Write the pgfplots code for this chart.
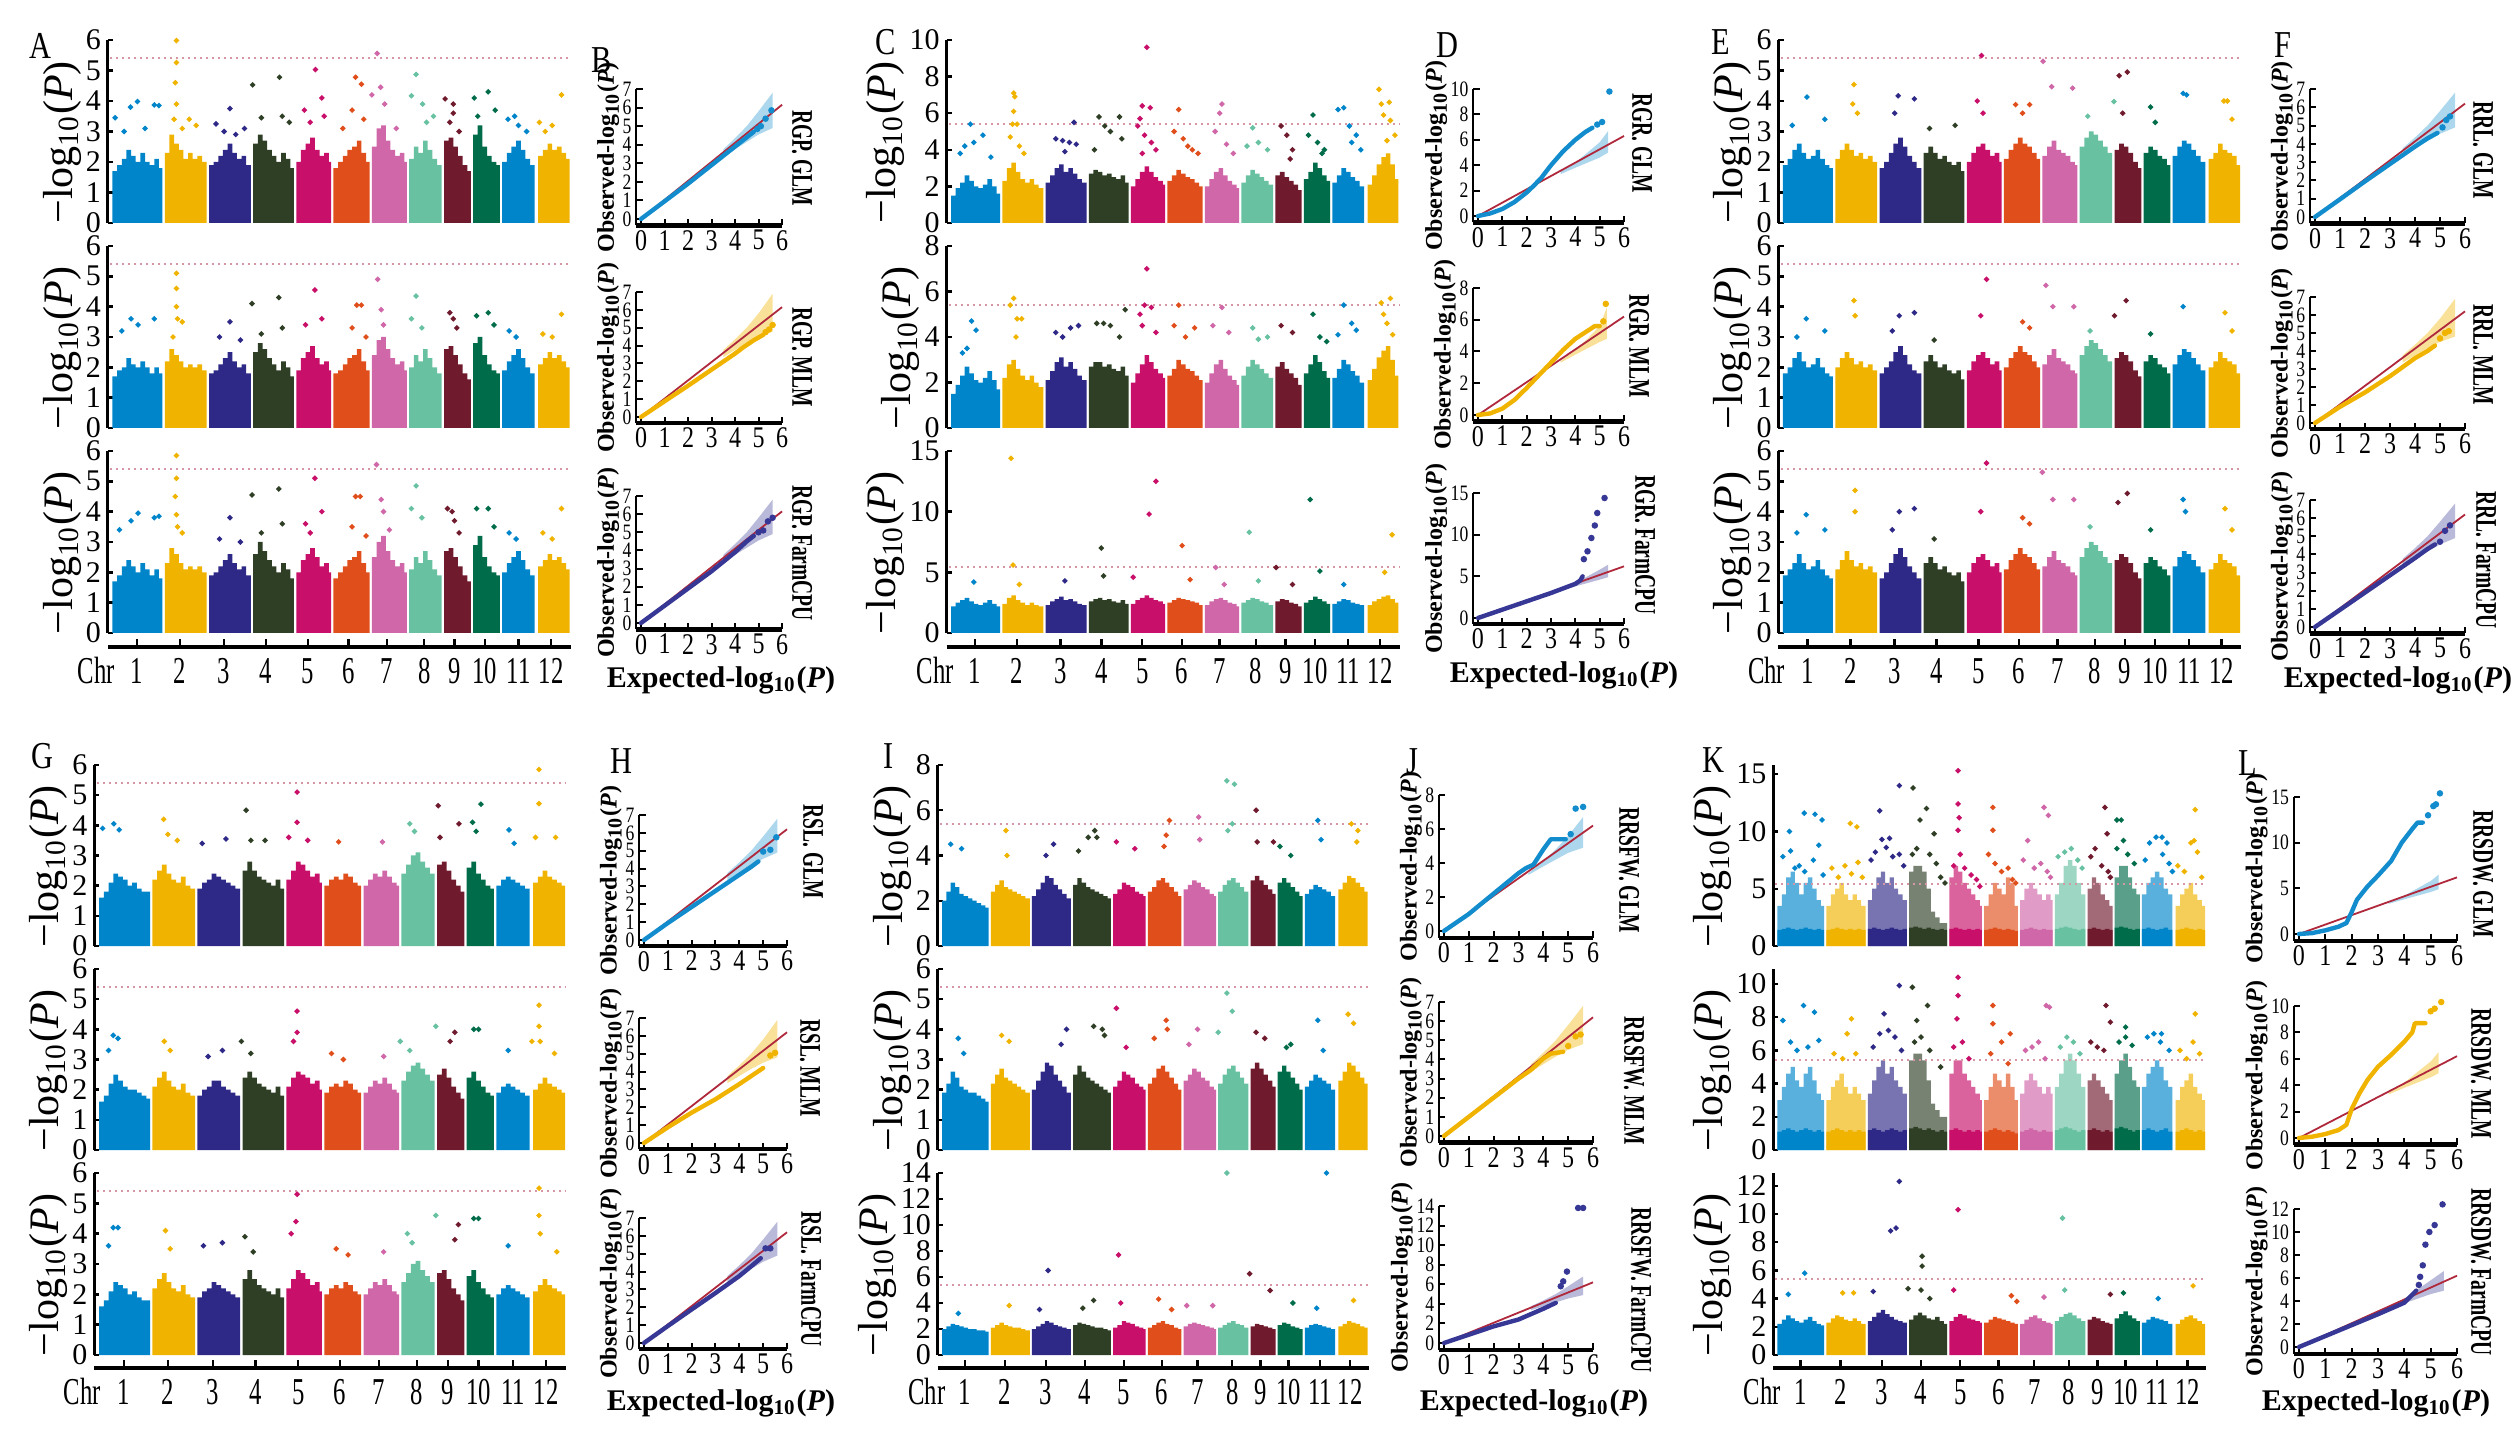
\documentclass[border=0pt]{standalone}
\usepackage{fontspec}
\setmainfont{Liberation Serif}
\newfontfamily\cond{Liberation Serif}[FakeStretch=0.8]
\newfontfamily\xcond{Liberation Serif}[FakeStretch=0.65]
\usepackage{pgfplots}
\usepackage{pgfplotstable}
\pgfplotsset{compat=1.18}
\newcommand\fs[1]{\fontsize{#1}{#1}\selectfont}

\definecolor{c1}{RGB}{0,133,202}
\definecolor{c2}{RGB}{240,180,0}
\definecolor{c3}{RGB}{46,41,135}
\definecolor{c4}{RGB}{47,63,38}
\definecolor{c5}{RGB}{200,15,105}
\definecolor{c6}{RGB}{224,78,28}
\definecolor{c7}{RGB}{208,103,168}
\definecolor{c8}{RGB}{104,194,162}
\definecolor{c9}{RGB}{112,26,46}
\definecolor{c10}{RGB}{0,108,74}
\definecolor{c11}{RGB}{0,133,202}
\definecolor{c12}{RGB}{240,180,0}
\definecolor{glm}{RGB}{18,140,205}
\definecolor{mlm}{RGB}{240,180,0}
\definecolor{fcpu}{RGB}{55,55,150}
\colorlet{glmb}{glm!35!white}
\colorlet{mlmb}{mlm!40!white}
\colorlet{fcpub}{fcpu!35!white}
\definecolor{qqred}{RGB}{175,40,60}
\definecolor{thr}{RGB}{215,150,165}

% rows: one per Manhattan panel, one bar (about 4 Mb) per column
\pgfplotstableread[header=false]{
x 2 6 10 14 18 22 26 30 34 38 41  47 51 55 59 63 67 71 75 79  85 89 93 97 101 105 109 113 117  123 127 131 135 139 143 147 151 154  160 164 168 172 176 180 184 186  192 196 200 204 208 212 216 219  225 229 233 237 241 245 249 251  257 261 265 269 273 277 281  287 291 295 299 303 306  312 316 320 324 328 331  337 341 345 349 353 357 361  368 372 376 380 384 388 391
chr 1 1 1 1 1 1 1 1 1 1 1  2 2 2 2 2 2 2 2 2  3 3 3 3 3 3 3 3 3  4 4 4 4 4 4 4 4 4  5 5 5 5 5 5 5 5  6 6 6 6 6 6 6 6  7 7 7 7 7 7 7 7  8 8 8 8 8 8 8  9 9 9 9 9 9  10 10 10 10 10 10  11 11 11 11 11 11 11  12 12 12 12 12 12 12
A1 1.7 1.9 2.1 2.4 2.2 2.0 2.3 2.0 1.9 2.1 1.8  2.3 2.9 2.6 2.4 2.1 2.3 2.1 2.2 2.0  1.9 2.0 2.2 2.4 2.6 2.3 2.1 2.2 1.9  2.6 2.9 2.7 2.4 2.2 2.0 2.3 2.1 1.8  2.0 2.4 2.6 2.8 2.4 2.2 2.3 2.0  1.8 2.0 2.2 2.4 2.5 2.7 2.3 2.0  2.5 3.1 3.2 2.7 2.4 2.2 2.3 2.0  2.1 2.5 2.3 2.7 2.4 2.1 1.9  2.7 2.8 2.5 2.2 1.9 1.7  2.9 3.2 2.5 2.2 2.0 1.9  2.0 2.3 2.5 2.7 2.4 2.1 1.9  2.2 2.4 2.6 2.4 2.5 2.3 2.1
A2 1.7 1.9 2.0 2.3 2.1 2.0 2.2 2.0 1.8 2.0 1.8  2.2 2.6 2.4 2.2 2.0 2.1 2.0 2.1 1.9  1.8 1.9 2.1 2.3 2.5 2.2 2.0 2.1 1.8  2.5 2.8 2.6 2.3 2.1 1.9 2.2 2.0 1.7  1.9 2.3 2.5 2.7 2.3 2.1 2.2 1.9  1.8 1.9 2.1 2.3 2.4 2.6 2.2 1.9  2.4 2.9 3.0 2.6 2.3 2.1 2.2 1.9  2.0 2.4 2.2 2.6 2.3 2.0 1.8  2.6 2.7 2.4 2.1 1.8 1.6  2.8 3.0 2.4 2.1 1.9 1.8  1.9 2.2 2.4 2.6 2.3 2.0 1.8  2.1 2.3 2.5 2.3 2.4 2.2 2.0
A3 1.7 1.9 2.2 2.4 2.2 2.0 2.3 2.1 1.9 2.1 1.8  2.3 2.8 2.6 2.3 2.1 2.2 2.1 2.2 2.0  1.9 2.0 2.2 2.4 2.6 2.3 2.1 2.2 1.9  2.6 3.0 2.7 2.4 2.2 2.0 2.3 2.1 1.8  2.0 2.4 2.6 2.8 2.5 2.2 2.3 2.0  1.8 2.0 2.2 2.4 2.5 2.7 2.3 2.0  2.5 3.0 3.2 2.7 2.4 2.2 2.3 2.0  2.1 2.5 2.3 2.7 2.4 2.1 1.9  2.7 2.8 2.5 2.2 1.9 1.7  2.9 3.2 2.5 2.2 2.0 1.9  2.0 2.3 2.5 2.7 2.4 2.1 1.9  2.2 2.4 2.6 2.4 2.5 2.3 2.1
C1 1.5 1.9 2.2 2.6 2.3 2.0 1.9 2.1 2.4 2.0 1.6  2.3 3.0 3.3 2.8 2.4 2.2 2.4 2.1 1.9  2.2 2.6 3.0 3.2 2.8 3.0 2.7 2.4 2.2  2.7 2.9 2.8 2.6 2.7 2.5 2.4 2.6 2.2  2.0 2.4 2.8 3.1 2.8 2.5 2.3 2.1  2.3 2.6 2.9 2.7 2.5 2.4 2.2 2.0  2.0 2.4 2.8 3.0 2.6 2.3 2.1 1.9  2.2 2.6 2.9 2.7 2.5 2.3 2.1  2.6 2.8 2.5 2.3 2.1 1.8  2.4 2.8 3.3 3.0 2.6 2.3  2.2 2.6 3.0 2.8 2.5 2.3 2.0  2.1 2.6 3.2 3.6 3.8 3.2 2.4
C2 1.5 1.9 2.3 2.7 2.4 2.1 2.0 2.2 2.5 2.1 1.7  2.2 2.8 3.0 2.6 2.3 2.1 2.3 2.0 1.8  2.1 2.5 2.9 3.1 2.7 2.9 2.6 2.3 2.1  2.7 2.9 2.9 2.7 2.8 2.6 2.5 2.7 2.3  2.0 2.4 2.8 3.2 2.9 2.6 2.4 2.2  2.3 2.6 3.0 2.8 2.6 2.5 2.3 2.1  2.0 2.4 2.8 3.0 2.6 2.3 2.1 1.9  2.3 2.7 3.0 2.8 2.6 2.4 2.2  2.7 2.9 2.6 2.4 2.2 1.9  2.4 2.8 3.2 2.9 2.5 2.2  2.2 2.6 3.0 2.8 2.5 2.3 2.0  2.1 2.6 3.1 3.4 3.6 3.0 2.3
C3 2.2 2.5 2.7 2.9 2.6 2.4 2.3 2.5 2.7 2.4 2.2  2.4 2.9 3.1 2.7 2.5 2.3 2.5 2.3 2.2  2.3 2.6 2.8 3.0 2.7 2.8 2.6 2.4 2.3  2.6 2.8 2.9 2.7 2.8 2.6 2.5 2.7 2.4  2.4 2.7 2.9 3.1 2.9 2.7 2.6 2.4  2.5 2.7 2.9 2.8 2.7 2.6 2.5 2.3  2.3 2.6 2.8 2.9 2.7 2.5 2.4 2.2  2.5 2.7 2.9 2.8 2.6 2.5 2.3  2.6 2.8 2.7 2.5 2.4 2.2  2.5 2.7 3.0 2.8 2.6 2.4  2.4 2.6 2.8 2.7 2.5 2.4 2.3  2.3 2.6 2.8 3.0 3.1 2.8 2.5
E1 1.9 2.1 2.4 2.6 2.3 2.1 2.2 2.4 2.1 1.9 1.8  2.1 2.4 2.6 2.4 2.2 2.3 2.1 2.2 2.0  1.8 2.0 2.3 2.6 2.8 2.5 2.2 2.0 1.8  2.3 2.5 2.3 2.1 2.2 2.0 1.9 2.0 1.7  2.0 2.3 2.5 2.6 2.4 2.2 2.3 2.0  2.1 2.4 2.6 2.8 2.6 2.5 2.3 2.1  2.2 2.5 2.7 2.4 2.3 2.2 2.0 1.9  2.5 2.8 3.0 2.9 2.7 2.5 2.3  2.4 2.6 2.5 2.3 2.0 1.8  2.3 2.5 2.4 2.2 2.1 1.9  2.2 2.5 2.7 2.6 2.4 2.2 2.0  2.1 2.3 2.6 2.4 2.3 2.2 1.9
E2 1.8 2.0 2.3 2.5 2.2 2.0 2.1 2.3 2.0 1.8 1.7  2.0 2.3 2.5 2.3 2.1 2.2 2.0 2.1 1.9  1.8 2.0 2.2 2.5 2.7 2.4 2.1 1.9 1.8  2.2 2.4 2.2 2.0 2.1 1.9 1.8 1.9 1.6  1.9 2.2 2.4 2.5 2.3 2.1 2.2 1.9  2.0 2.3 2.5 2.7 2.5 2.4 2.2 2.0  2.1 2.4 2.6 2.3 2.2 2.1 1.9 1.8  2.4 2.7 2.9 2.8 2.6 2.4 2.2  2.3 2.5 2.4 2.2 1.9 1.7  2.2 2.4 2.3 2.1 2.0 1.8  2.1 2.4 2.6 2.5 2.3 2.1 1.9  2.0 2.2 2.5 2.3 2.2 2.1 1.8
E3 1.9 2.1 2.3 2.6 2.3 2.1 2.2 2.4 2.1 1.9 1.8  2.1 2.4 2.7 2.4 2.2 2.3 2.1 2.2 2.0  1.8 2.0 2.3 2.6 2.8 2.5 2.2 2.0 1.8  2.3 2.5 2.3 2.1 2.2 2.0 1.9 2.0 1.7  2.0 2.3 2.5 2.6 2.4 2.2 2.3 2.0  2.1 2.4 2.6 2.8 2.6 2.5 2.3 2.1  2.2 2.5 2.7 2.4 2.3 2.2 2.0 1.9  2.5 2.8 3.0 2.9 2.7 2.5 2.3  2.4 2.6 2.5 2.3 2.0 1.8  2.3 2.5 2.4 2.2 2.1 1.9  2.2 2.5 2.7 2.6 2.4 2.2 2.0  2.1 2.3 2.6 2.4 2.3 2.2 1.9
G1 1.6 1.8 2.1 2.4 2.3 2.2 2.0 2.1 1.9 1.8 1.8  2.2 2.5 2.7 2.4 2.2 2.1 2.3 2.0 1.9  1.9 2.1 2.2 2.4 2.3 2.2 2.1 2.0 1.9  2.5 2.8 2.5 2.3 2.2 2.1 2.0 2.2 1.9  2.2 2.5 2.8 2.7 2.5 2.3 2.4 2.1  2.0 2.2 2.3 2.2 2.4 2.3 2.1 2.0  2.0 2.2 2.4 2.3 2.5 2.3 2.1 2.0  2.4 2.7 3.0 3.1 2.8 2.6 2.4  2.7 2.8 2.5 2.2 2.0 1.8  2.6 2.8 2.4 2.2 2.0 1.9  2.0 2.2 2.3 2.2 2.1 2.0 1.9  2.1 2.3 2.5 2.3 2.2 2.1 2.0
G2 1.6 1.8 2.2 2.5 2.3 2.1 2.0 2.0 1.9 1.8 1.7  2.1 2.4 2.6 2.3 2.1 2.0 2.2 1.9 1.8  1.8 2.0 2.1 2.3 2.3 2.1 2.0 1.9 1.8  2.4 2.6 2.4 2.2 2.1 2.0 1.9 2.1 1.8  2.1 2.4 2.6 2.5 2.4 2.2 2.3 2.0  1.9 2.1 2.2 2.1 2.3 2.2 2.0 1.9  1.9 2.1 2.3 2.2 2.4 2.2 2.0 1.9  2.3 2.6 2.8 2.9 2.7 2.5 2.3  2.5 2.7 2.4 2.1 1.9 1.7  2.4 2.6 2.3 2.1 1.9 1.8  1.9 2.1 2.2 2.1 2.0 1.9 1.8  2.0 2.2 2.4 2.2 2.1 2.0 1.9
G3 1.6 1.8 2.1 2.4 2.3 2.2 2.0 2.1 1.9 1.8 1.8  2.2 2.5 2.7 2.4 2.2 2.1 2.3 2.0 1.9  1.9 2.1 2.2 2.4 2.3 2.2 2.1 2.0 1.9  2.5 2.8 2.5 2.3 2.2 2.1 2.0 2.2 1.9  2.2 2.5 2.8 2.7 2.5 2.3 2.4 2.1  2.0 2.2 2.3 2.2 2.4 2.3 2.1 2.0  2.0 2.2 2.4 2.3 2.5 2.3 2.1 2.0  2.4 2.7 3.0 3.1 2.8 2.6 2.4  2.7 2.8 2.5 2.2 2.0 1.8  2.6 2.8 2.4 2.2 2.0 1.9  2.0 2.2 2.3 2.2 2.1 2.0 1.9  2.1 2.3 2.5 2.3 2.2 2.1 2.0
I1 2.0 2.4 2.8 2.6 2.3 2.2 2.1 2.0 1.9 1.8 1.7  2.4 2.7 2.9 2.6 2.5 2.4 2.3 2.2 2.1  2.2 2.5 2.8 3.1 3.0 2.7 2.5 2.3 2.1  2.7 3.0 2.8 2.6 2.5 2.4 2.3 2.2 2.1  2.3 2.5 2.8 2.7 2.6 2.4 2.3 2.2  2.4 2.6 2.9 3.0 2.8 2.6 2.4 2.2  2.5 2.7 2.9 2.8 2.6 2.5 2.3 2.2  2.4 2.7 2.9 3.0 2.8 2.6 2.4  2.9 3.1 2.9 2.7 2.5 2.3  2.8 3.0 2.8 2.6 2.4 2.2  2.3 2.5 2.7 2.6 2.5 2.4 2.2  2.5 2.8 3.1 3.0 2.8 2.6 2.4
I2 1.9 2.2 2.6 2.4 2.1 2.0 1.9 1.9 1.8 1.7 1.6  2.2 2.5 2.7 2.4 2.3 2.2 2.1 2.0 1.9  2.0 2.3 2.6 2.9 2.8 2.5 2.3 2.1 1.9  2.5 2.8 2.6 2.4 2.3 2.2 2.1 2.0 1.9  2.1 2.3 2.6 2.5 2.4 2.2 2.1 2.0  2.2 2.4 2.7 2.8 2.6 2.4 2.2 2.0  2.3 2.5 2.7 2.6 2.4 2.3 2.1 2.0  2.2 2.5 2.7 2.8 2.6 2.4 2.2  2.7 2.9 2.7 2.5 2.3 2.1  2.6 2.8 2.6 2.4 2.2 2.0  2.1 2.3 2.5 2.4 2.3 2.2 2.0  2.3 2.6 2.9 2.8 2.6 2.4 2.2
I3 2.0 2.2 2.4 2.3 2.2 2.1 2.0 2.0 1.9 1.9 1.8  2.1 2.3 2.5 2.3 2.2 2.1 2.1 2.0 1.9  2.0 2.2 2.4 2.6 2.5 2.3 2.2 2.1 2.0  2.3 2.5 2.4 2.3 2.2 2.1 2.1 2.0 1.9  2.1 2.3 2.6 2.5 2.4 2.2 2.1 2.0  2.1 2.3 2.5 2.6 2.4 2.3 2.1 2.0  2.2 2.4 2.5 2.4 2.3 2.2 2.1 2.0  2.1 2.3 2.5 2.6 2.4 2.3 2.1  2.2 2.4 2.3 2.2 2.1 2.0  2.3 2.5 2.4 2.2 2.1 2.0  2.1 2.3 2.4 2.3 2.2 2.1 2.0  2.2 2.4 2.6 2.5 2.4 2.2 2.1
K1c 3.5 4.5 6.0 6.5 5.5 4.5 5.5 6.0 5.0 4.0 3.5  3.5 4.5 5.0 5.5 4.5 4.0 4.5 4.0 3.5  4.0 5.0 6.0 6.5 5.5 6.0 5.0 4.5 4.0  6.5 7.0 7.0 6.5 5.0 3.0 2.5 2.0 2.0  6.0 7.0 6.5 5.5 5.0 4.5 4.0 3.5  3.5 4.5 5.5 5.0 4.5 6.0 5.5 3.5  4.0 5.0 5.5 5.0 4.5 4.0 4.5 4.0  4.5 5.5 7.0 7.5 7.0 5.5 4.5  5.0 6.0 5.5 4.5 4.0 3.5  6.0 7.0 7.0 6.0 5.0 4.5  4.5 5.5 6.0 6.5 6.0 5.0 4.5  3.5 4.5 5.0 5.5 4.5 4.0 3.5
K1s 1.4 1.5 1.6 1.5 1.4 1.5 1.6 1.5 1.4 1.5 1.4  1.4 1.5 1.6 1.5 1.4 1.5 1.4 1.5 1.4  1.5 1.6 1.5 1.4 1.5 1.6 1.5 1.4 1.5  1.6 1.7 1.6 1.5 1.6 1.5 1.4 1.5 1.4  1.5 1.6 1.5 1.4 1.5 1.4 1.5 1.4  1.4 1.5 1.6 1.5 1.4 1.5 1.4 1.3  1.4 1.5 1.6 1.5 1.4 1.5 1.4 1.4  1.5 1.6 1.7 1.6 1.5 1.4 1.5  1.5 1.6 1.5 1.4 1.5 1.4  1.6 1.7 1.6 1.5 1.4 1.5  1.5 1.6 1.5 1.4 1.5 1.6 1.4  1.4 1.5 1.6 1.5 1.4 1.5 1.4
K2c 3.0 3.8 4.6 5.0 4.2 3.8 4.6 5.0 4.2 3.4 3.0  3.0 3.8 4.2 4.6 3.8 3.4 3.8 3.4 3.0  3.4 4.2 5.0 5.4 4.6 5.0 4.2 3.8 3.4  5.4 5.8 5.8 5.4 4.2 2.8 2.4 2.0 2.0  4.6 5.4 5.4 4.6 4.2 3.8 3.4 3.0  3.0 3.8 4.6 4.2 3.8 4.6 3.8 3.0  3.4 4.2 4.6 4.2 3.8 3.4 3.8 3.4  3.8 4.6 5.4 5.8 5.4 4.6 3.8  4.2 4.6 4.2 3.8 3.4 3.0  4.6 5.4 5.8 5.0 4.2 3.8  3.8 4.6 5.0 5.4 5.0 4.2 3.8  3.0 3.8 4.2 4.6 3.8 3.4 3.0
K2s 1.1 1.2 1.3 1.2 1.1 1.2 1.3 1.2 1.1 1.2 1.1  1.1 1.2 1.3 1.2 1.1 1.2 1.1 1.2 1.1  1.2 1.3 1.2 1.1 1.2 1.3 1.2 1.1 1.2  1.3 1.4 1.3 1.2 1.3 1.2 1.1 1.2 1.1  1.2 1.3 1.2 1.1 1.2 1.1 1.2 1.1  1.1 1.2 1.3 1.2 1.1 1.2 1.1 1.0  1.1 1.2 1.3 1.2 1.1 1.2 1.1 1.1  1.2 1.3 1.4 1.3 1.2 1.1 1.2  1.2 1.3 1.2 1.1 1.2 1.1  1.3 1.4 1.3 1.2 1.1 1.2  1.2 1.3 1.2 1.1 1.2 1.3 1.1  1.1 1.2 1.3 1.2 1.1 1.2 1.1
K3 2.2 2.5 2.8 2.6 2.4 2.3 2.5 2.7 2.4 2.2 2.1  2.3 2.6 2.8 2.7 2.5 2.4 2.6 2.4 2.2  2.4 2.7 3.0 3.2 2.9 2.7 2.5 2.4 2.3  2.5 2.8 3.0 2.8 2.6 2.5 2.7 2.4 2.2  2.4 2.7 2.9 2.8 2.6 2.5 2.4 2.3  2.3 2.5 2.7 2.6 2.5 2.4 2.3 2.2  2.2 2.5 2.7 2.8 2.6 2.4 2.3 2.2  2.4 2.7 2.9 3.0 2.8 2.6 2.4  2.5 2.7 2.6 2.4 2.3 2.2  2.6 2.9 3.1 2.8 2.6 2.4  2.3 2.5 2.7 2.6 2.5 2.4 2.2  2.2 2.5 2.7 2.8 2.6 2.4 2.2
}\Hraw
\pgfplotstabletranspose[colnames from=0]{\Hdata}{\Hraw}

\pgfplotsset{
  /pgf/number format/assume math mode=true,
  manax/.style={scale only axis, xmin=-4, xmax=394, ymin=0,
    axis x line=none, axis y line=left, axis line style={-},
    y axis line style={line width=0.7pt}, tick align=inside, major tick length=1.3pt,
    tick style={black, line width=0.6pt}, clip=false,
    yticklabel style={font=\fs{7.5}, inner sep=0pt, xshift=-1.5pt},
    ylabel={−log\textsubscript{10}(\textit{P})},
    ylabel style={font=\fs{10.5}, inner sep=1pt, at={(ticklabel cs:0.44)}}},
  chrax/.style={scale only axis, xmin=-4, xmax=394, ymin=0, ymax=1, height=1pt,
    axis y line=none, axis x line=bottom, axis line style={-, line width=0.8pt},
    xtick={21,58,96,132,168,203,236,268,294,320,349,377},
    xticklabels={1,2,3,4,5,6,7,8,9,10,11,12},
    tick align=inside, major tick length=2pt, tick style={black, line width=0.6pt},
    xticklabel style={font=\xcond\fs{9.5}, anchor=base, yshift=-9.2pt, inner sep=0.5pt}, clip=false},
  qqax/.style={scale only axis, xmin=-0.2, xmax=6, xtick={0,1,2,3,4,5,6},
    axis x line=bottom, axis y line=left, axis line style={-},
    x axis line style={line width=1.1pt}, y axis line style={line width=0.5pt},
    tick align=inside, major tick length=1.6pt, tick style={black, line width=0.5pt},
    clip=false,
    xticklabel style={font=\cond\fs{7.5}, inner sep=1pt},
    yticklabel style={font=\cond\fs{5.5}, inner sep=0.2pt, xshift=-0.8pt},
    ylabel={Observed-log\textsubscript{10}(\textit{P})},
    ylabel style={font=\bfseries\fs{6}, inner sep=0.5pt}},
  chrdots/.style={only marks, scatter, mark=*, mark size=0.45pt,
    point meta=explicit symbolic,
    scatter/classes={1={draw=c1,fill=c1},2={draw=c2,fill=c2},3={draw=c3,fill=c3},
      4={draw=c4,fill=c4},5={draw=c5,fill=c5},6={draw=c6,fill=c6},7={draw=c7,fill=c7},
      8={draw=c8,fill=c8},9={draw=c9,fill=c9},10={draw=c10,fill=c10},
      11={draw=c11,fill=c11},12={draw=c12,fill=c12}}},
}

\newcommand{\cloud}[1]{\pgfplotsinvokeforeach{1,...,12}{%
  \addplot[ybar, bar width=4, bar shift=0pt, draw=none, fill=c##1!65!white,
    restrict expr to domain={\thisrow{chr}}{##1:##1}] table[x=x, y=#1]{\Hdata};}}

% #1 left px, #2 bottom px, #3 width, #4 height, #5 options, #6 column, #7 dots, #8 extra layers
\newcommand{\manh}[8]{%
\begin{axis}[manax, at={({#1*0.25pt},{-#2*0.25pt})}, anchor=south west, width=#3, height=#4, #5]
#8
\pgfplotsinvokeforeach{1,...,12}{%
  \addplot[ybar, bar width=4, bar shift=0pt, draw=none, fill=c##1,
    restrict expr to domain={\thisrow{chr}}{##1:##1}] table[x=x, y=#6]{\Hdata};}
\addplot[thr, densely dotted, line width=0.5pt] coordinates {(-2,5.4)(394,5.4)};
\addplot[chrdots] coordinates {#7};
\end{axis}}

\newcommand{\chraxis}[3]{%
\begin{axis}[chrax, at={({#1*0.25pt},{-#2*0.25pt})}, anchor=south west, width=#3]
\addplot[draw=none] coordinates {(0,0)};
\node[font=\xcond\fs{9.5}, anchor=base, yshift=-9.2pt, inner sep=0.5pt] at (axis cs:-14,0) {Chr};
\end{axis}}

\newcommand{\qq}[6]{%
\begin{axis}[qqax, at={({#1*0.25pt},{-#2*0.25pt})}, anchor=south west, width=#3, height=#4, #5]
#6
\end{axis}}
\newcommand{\band}[2]{\addplot[draw=none, fill=#1] coordinates {#2};}
\newcommand{\diag}[1]{\addplot[qqred, line width=0.45pt] coordinates {(0,0)(6,#1)};}
\newcommand{\obs}[3]{\addplot[#1, line width=1.1pt, line join=round, line cap=round] coordinates {#2};
  \addplot[#1, only marks, mark=*, mark size=0.6pt] coordinates {#3};}
\newcommand{\lab}[4][]{\node[#1] at ({#2*0.25pt},{-#3*0.25pt}) {#4};}

\begin{document}
\begin{tikzpicture}
\useasboundingbox (0,0) rectangle (630pt,-358.25pt);

% ===================== A =====================
\manh{107.8}{223}{115.75pt}{45.75pt}{ymax=6, ytick={0,...,6}}{A1}{(2.3,3.45)[1] (15.5,3.8)[1] (21.5,3.98)[1] (36,3.87)[1] (40,3.85)[1] (10,3.0)[1] (28,3.1)[1] (55,5.98)[2] (55,5.26)[2] (54,4.6)[2] (55,3.9)[2] (53,3.4)[2] (66,3.4)[2] (60,3.1)[2] (72,3.2)[2] (89,3.25)[3] (101,3.75)[3] (113.5,3.1)[3] (96,3.0)[3] (106,2.9)[3] (120.5,4.53)[4] (143.6,4.78)[4] (128,3.45)[4] (146,3.5)[4] (152,3.3)[4] (174.5,5.03)[5] (180,4.1)[5] (165,3.7)[5] (170,3.3)[5] (182,3.5)[5] (209,4.78)[6] (214,4.55)[6] (206,3.7)[6] (216,3.4)[6] (198,3.1)[6] (223,4.2)[7] (230.5,4.45)[7] (227.6,5.56)[7] (234,3.9)[7] (244,3.1)[7] (257,4.17)[8] (261,4.87)[8] (266.6,3.9)[8] (270,3.3)[8] (276,3.5)[8] (286,4.07)[9] (293,3.9)[9] (293,3.6)[9] (290,3.3)[9] (298,3.0)[9] (311,4.1)[10] (323,4.3)[10] (329,3.7)[10] (314,3.5)[10] (340,3.4)[11] (345.7,3.5)[11] (349,3.2)[11] (356,3.0)[11] (367,3.3)[12] (386,4.2)[12] (378,3.2)[12] (372,3.0)[12]}{}
\manh{107.8}{428}{115.75pt}{45.5pt}{ymax=6, ytick={0,...,6}}{A2}{(55,5.1)[2] (55,4.6)[2] (55,4.0)[2] (56,3.6)[2] (60,3.5)[2] (52,3.0)[2] (16,3.6)[1] (22,3.4)[1] (36,3.6)[1] (8,3.2)[1] (101,3.5)[3] (92,3.0)[3] (110,2.9)[3] (120,4.1)[4] (143,4.3)[4] (146,3.3)[4] (128,3.1)[4] (174,4.55)[5] (180,3.6)[5] (166,3.4)[5] (210,4.05)[6] (214,4.05)[6] (206,3.3)[6] (218,3.0)[6] (228,4.9)[7] (231,3.9)[7] (233,3.4)[7] (261,4.35)[8] (257,3.6)[8] (266,3.3)[8] (290,3.8)[9] (293,3.6)[9] (296,3.3)[9] (313,3.7)[10] (323,3.8)[10] (328,3.4)[10] (341,3.2)[11] (347,3.0)[11] (386,3.75)[12] (370,3.1)[12] (378,3.0)[12]}{}
\manh{107.8}{633}{115.75pt}{45.5pt}{ymax=6, ytick={0,...,6}}{A3}{(55,5.85)[2] (55,5.1)[2] (54,4.5)[2] (55,3.9)[2] (56,3.5)[2] (60,3.3)[2] (16,3.7)[1] (22,3.95)[1] (36,3.8)[1] (40,3.85)[1] (6,3.4)[1] (101,3.8)[3] (92,3.1)[3] (110,3.0)[3] (120,4.55)[4] (143,4.75)[4] (146,3.6)[4] (128,3.3)[4] (174,5.1)[5] (180,4.0)[5] (166,3.6)[5] (170,3.3)[5] (209,4.5)[6] (213,4.5)[6] (206,3.5)[6] (218,3.2)[6] (227,5.55)[7] (231,4.4)[7] (233,4.0)[7] (238,3.4)[7] (261,4.85)[8] (257,4.1)[8] (266,3.8)[8] (288,4.1)[9] (292,4.0)[9] (294,3.7)[9] (298,3.3)[9] (313,4.1)[10] (323,4.1)[10] (328,3.5)[10] (341,3.3)[11] (347,3.1)[11] (386,4.1)[12] (370,3.3)[12] (378,3.1)[12]}{}
\chraxis{107.8}{647}{115.75pt}

% ===================== C =====================
\manh{946.5}{223}{113.25pt}{45.75pt}{ymax=10, ytick={0,2,...,10}}{C1}{(17,5.4)[1] (12,4.2)[1] (20,4.4)[1] (28,4.8)[1] (35,3.6)[1] (8,3.8)[1] (55,7.1)[2] (56,6.9)[2] (55,6.1)[2] (54,5.4)[2] (58,5.4)[2] (52,4.7)[2] (60,4.2)[2] (64,3.8)[2] (92,4.6)[3] (98,4.5)[3] (104,4.4)[3] (110,4.3)[3] (108,5.5)[3] (100,3.9)[3] (130,5.8)[4] (148,5.8)[4] (140,5.0)[4] (150,4.6)[4] (126,4.0)[4] (135,5.3)[4] (172,9.6)[5] (168,6.4)[5] (175,6.3)[5] (166,5.7)[5] (164,5.3)[5] (170,4.8)[5] (176,4.4)[5] (180,4.0)[5] (168,3.8)[5] (200,6.2)[6] (196,5.0)[6] (204,4.6)[6] (208,4.2)[6] (212,4.0)[6] (217,3.8)[6] (238,6.5)[7] (236,6.0)[7] (232,5.0)[7] (242,4.3)[7] (248,3.8)[7] (265,5.2)[8] (270,4.4)[8] (260,4.2)[8] (278,4.0)[8] (290,5.3)[9] (295,4.8)[9] (300,4.0)[9] (298,3.5)[9] (318,5.9)[10] (314,4.8)[10] (322,4.4)[10] (328,4.0)[10] (326,3.8)[10] (340,6.2)[11] (345,6.3)[11] (350,5.3)[11] (356,4.8)[11] (352,4.4)[11] (360,4.0)[11] (376,7.3)[12] (385,6.6)[12] (378,6.5)[12] (380,5.9)[12] (386,5.6)[12] (390,4.8)[12] (383,4.5)[12]}{}
\manh{946.5}{428}{113.25pt}{45.5pt}{ymax=8, ytick={0,2,...,8}}{C2}{(18,4.7)[1] (22,4.3)[1] (14,3.5)[1] (10,3.3)[1] (55,5.7)[2] (52,5.4)[2] (58,4.8)[2] (62,4.8)[2] (57,4.0)[2] (92,4.2)[3] (98,4.0)[3] (105,4.4)[3] (112,4.5)[3] (128,4.6)[4] (134,4.6)[4] (140,4.5)[4] (148,4.0)[4] (153,5.2)[4] (172,7.0)[5] (170,5.4)[5] (176,5.3)[5] (166,5.0)[5] (168,4.5)[5] (180,4.2)[5] (200,5.4)[6] (196,4.5)[6] (206,4.0)[6] (214,4.4)[6] (238,5.3)[7] (230,4.5)[7] (244,4.2)[7] (265,4.4)[8] (270,3.9)[8] (278,4.0)[8] (290,4.5)[9] (300,4.2)[9] (318,5.0)[10] (324,4.0)[10] (330,3.8)[10] (345,5.4)[11] (352,4.6)[11] (356,4.3)[11] (340,4.1)[11] (378,5.5)[12] (386,5.7)[12] (380,5.0)[12] (383,4.6)[12] (388,4.1)[12]}{}
\manh{946.5}{633}{113.25pt}{45.5pt}{ymax=15, ytick={0,5,10,15}}{C3}{(52.7,14.4)[2] (180,12.5)[5] (174,9.8)[5] (315.5,11.0)[10] (262,8.3)[8] (203,7.2)[6] (132,7.0)[4] (387.5,8.1)[12] (232.5,5.4)[7] (285.6,5.4)[9] (54.5,5.6)[2] (324,5.1)[10] (381,5.0)[12] (134,4.7)[4] (160,4.6)[5] (20,4.2)[1] (100,4.3)[3] (210,4.4)[6] (240,4.0)[7] (270,4.3)[8] (300,4.0)[9] (345,4.0)[11] (60,4.0)[2]}{}
\chraxis{946.5}{647}{113.25pt}

% ===================== E =====================
\manh{1778.3}{223}{115.75pt}{45.75pt}{ymax=6, ytick={0,...,6}}{E1}{(170.7,5.49)[5] (223.6,5.3)[7] (289,4.83)[9] (296,4.95)[9] (61,4.54)[2] (20.6,4.13)[1] (99,4.17)[3] (113,4.07)[3] (231,4.47)[7] (249,4.42)[7] (167,4.0)[5] (200,3.88)[6] (212,3.88)[6] (344,4.25)[11] (347,4.2)[11] (379,4.0)[12] (382,4.0)[12] (316,3.8)[10] (284.5,3.98)[8] (60,3.9)[2] (64,3.6)[2] (8,3.2)[1] (36,3.4)[1] (96,3.6)[3] (126,3.1)[4] (148,3.2)[4] (172,3.6)[5] (206,3.6)[6] (262,3.5)[8] (292,3.6)[9] (320,3.3)[10] (386,3.4)[12]}{}
\manh{1778.3}{428}{115.75pt}{45.5pt}{ymax=6, ytick={0,...,6}}{E2}{(175,4.9)[5] (226,4.7)[7] (295,4.2)[9] (61,4.2)[2] (100,3.7)[3] (113,3.8)[3] (344,4.0)[11] (232,4.0)[7] (250,4.0)[7] (380,3.8)[12] (285,3.7)[9] (20,3.6)[1] (170,3.7)[5] (62,3.7)[2] (12,3.0)[1] (36,3.2)[1] (94,3.2)[3] (130,2.9)[4] (206,3.5)[6] (212,3.3)[6] (264,3.2)[8] (316,3.1)[10] (386,3.2)[12]}{}
\manh{1778.3}{633}{115.75pt}{45.5pt}{ymax=6, ytick={0,...,6}}{E3}{(175,5.6)[5] (223,5.3)[7] (296,4.6)[9] (62,4.7)[2] (100,4.0)[3] (113,4.1)[3] (232,4.4)[7] (250,4.4)[7] (344,4.4)[11] (380,4.1)[12] (20,3.9)[1] (288,4.3)[9] (170,4.0)[5] (62,4.0)[2] (12,3.3)[1] (36,3.4)[1] (94,3.4)[3] (130,3.1)[4] (206,3.8)[6] (212,3.6)[6] (264,3.5)[8] (316,3.4)[10] (386,3.4)[12] (346,4.0)[11]}{}
\chraxis{1778.3}{647}{115.75pt}

% ===================== G =====================
\manh{94.3}{946}{118pt}{45.25pt}{ymax=6, ytick={0,...,6}}{G1}{(371,5.85)[12] (371,4.72)[12] (167,5.1)[5] (167,4.1)[5] (124,4.5)[4] (286,4.65)[9] (322,4.7)[10] (3,3.9)[1] (12.5,4.05)[1] (17,3.85)[1] (54.5,4.2)[2] (66,3.5)[2] (58,3.7)[2] (87,3.4)[3] (107,3.55)[3] (128,3.5)[4] (140,3.5)[4] (160,3.6)[5] (176,3.5)[5] (202,3.45)[6] (239,3.45)[7] (262,4.05)[8] (266,3.8)[8] (287.5,3.6)[9] (303.5,4.05)[9] (315,4.1)[10] (318,3.8)[10] (345.7,3.85)[11] (350,3.4)[11] (368,3.6)[12] (385,3.6)[12]}{}
\manh{94.3}{1150}{118pt}{45.25pt}{ymax=6, ytick={0,...,6}}{G2}{(371,4.8)[12] (371,4.1)[12] (372,3.6)[12] (167,4.6)[5] (167,3.9)[5] (164,3.6)[5] (284,4.1)[8] (316,4.0)[10] (320,4.0)[10] (300,3.9)[9] (296,3.6)[9] (12,3.8)[1] (16,3.7)[1] (8,3.3)[1] (55,3.6)[2] (60,3.3)[2] (120,3.6)[4] (128,3.2)[4] (92,3.1)[3] (104,3.3)[3] (196,3.2)[6] (206,3.0)[6] (240,3.1)[7] (254,3.6)[8] (262,3.3)[8] (345,3.3)[11] (365,3.6)[12] (384,3.2)[12]}{}
\manh{94.3}{1355}{118pt}{45.5pt}{ymax=6, ytick={0,...,6}}{G3}{(371,5.5)[12] (371,4.6)[12] (372,4.0)[12] (167,5.3)[5] (166,4.4)[5] (162,4.0)[5] (284,4.6)[8] (303,4.3)[9] (300,3.8)[9] (316,4.5)[10] (320,4.5)[10] (12,4.2)[1] (16,4.2)[1] (8,3.6)[1] (56,4.1)[2] (60,3.5)[2] (123,3.9)[4] (130,3.4)[4] (88,3.6)[3] (104,3.7)[3] (260,4.0)[8] (264,3.7)[8] (345,3.6)[11] (200,3.5)[6] (210,3.3)[6] (240,3.4)[7] (386,3.4)[12]}{}
\chraxis{94.3}{1368}{118pt}

% ===================== I =====================
\manh{937.7}{946}{107.75pt}{45.25pt}{ymax=8, ytick={0,2,...,8}}{I1}{(263,7.3)[8] (270,7.15)[8] (290,6.0)[9] (237,5.7)[7] (210,5.55)[6] (347,5.55)[11] (378,5.4)[12] (59,5.1)[2] (141,5.1)[4] (135,4.8)[4] (143,4.8)[4] (264,5.1)[8] (268,5.4)[8] (8,4.5)[1] (18,4.3)[1] (103,4.5)[3] (161,4.6)[5] (178,4.3)[5] (207,4.9)[6] (205,4.4)[6] (238,4.7)[7] (291,4.6)[9] (306,4.6)[9] (312,4.4)[10] (350,4.7)[11] (384,5.1)[12] (383,4.6)[12] (60,4.0)[2] (96,4.0)[3] (126,4.2)[4] (322,4.0)[10]}{}
\manh{937.7}{1150}{107.75pt}{45.25pt}{ymax=6, ytick={0,...,6}}{I2}{(263,5.2)[8] (268,4.6)[8] (161,4.7)[5] (207,4.3)[6] (208,4.0)[6] (140,4.1)[4] (148,4.0)[4] (150,3.8)[4] (115,4.0)[3] (110,3.5)[3] (347,4.3)[11] (375,4.5)[12] (380,4.2)[12] (236,4.0)[7] (290,3.9)[9] (298,3.7)[9] (318,3.4)[10] (15,3.7)[1] (55,3.8)[2] (62,3.6)[2] (196,3.7)[6] (255,3.9)[8] (170,3.4)[5] (228,3.5)[7] (322,3.5)[10] (352,3.3)[11] (20,3.2)[1]}{}
\manh{937.7}{1355}{107.75pt}{45.5pt}{ymax=14, ytick={0,2,...,14}}{I3}{(263,14.0)[8] (355,14.0)[11] (163,7.7)[5] (98,6.5)[3] (284,6.25)[9] (303,4.96)[9] (140,4.2)[4] (200,4.3)[6] (380,4.2)[12] (62,3.8)[2] (165,4.0)[5] (226,3.8)[7] (324,4.0)[10] (346,3.6)[11] (15,3.2)[1] (90,3.5)[3] (130,3.6)[4] (250,3.8)[7] (212,3.5)[6]}{}
\chraxis{937.7}{1368}{107.75pt}

% ===================== K =====================
\manh{1773.1}{946}{108.25pt}{45.25pt}{ymax=15.8, ytick={0,5,10,15}}{K1s}{(166,15.3)[5] (166,12.4)[5] (167,11.2)[5] (166,10.1)[5] (112,14.0)[3] (124.6,13.8)[4] (137,12.0)[4] (131,11.0)[4] (94,11.8)[3] (24.6,11.6)[1] (34.5,11.5)[1] (41,11.0)[1] (11,10.0)[1] (67,10.7)[2] (73,10.4)[2] (198,12.1)[6] (198,10.1)[6] (245,12.1)[7] (249,11.4)[7] (301,12.1)[9] (303,9.8)[9] (312,11.0)[10] (316,11.0)[10] (384,11.9)[12] (383,9.2)[12] (353.5,9.5)[11] (358,9.0)[11] (144,9.8)[4] (103,9.4)[3] (5,7.8)[1] (12,8.3)[1] (20,7.0)[1] (25,6.5)[1] (33,7.5)[1] (38,8.8)[1] (42,6.2)[1] (16,6.8)[1] (50,6.8)[2] (56,6.0)[2] (62,7.0)[2] (68,6.3)[2] (74,7.3)[2] (78,6.0)[2] (86,7.5)[3] (90,8.2)[3] (96,9.3)[3] (100,8.6)[3] (106,7.8)[3] (112,8.0)[3] (116,7.0)[3] (124,8.0)[4] (128,8.5)[4] (140,8.0)[4] (146,7.2)[4] (150,6.0)[4] (154,5.5)[4] (162,7.0)[5] (168,8.0)[5] (172,6.8)[5] (178,6.2)[5] (183,5.8)[5] (186,5.2)[5] (194,8.0)[6] (200,7.2)[6] (206,6.5)[6] (212,6.8)[6] (216,5.8)[6] (219,5.5)[6] (226,7.5)[7] (230,9.2)[7] (236,6.8)[7] (242,7.2)[7] (248,6.5)[7] (251,6.0)[7] (258,7.8)[8] (264,8.2)[8] (270,8.5)[8] (276,7.5)[8] (280,6.8)[8] (288,7.8)[9] (292,8.5)[9] (298,7.0)[9] (304,6.5)[9] (306,6.0)[9] (312,8.5)[10] (318,9.2)[10] (322,8.0)[10] (328,7.2)[10] (338,7.5)[11] (342,9.0)[11] (348,9.5)[11] (354,8.0)[11] (360,7.2)[11] (363,6.5)[11] (368,7.0)[12] (374,6.5)[12] (380,9.0)[12] (386,8.2)[12] (390,6.0)[12]}{\cloud{K1c}}
\manh{1773.1}{1150}{108.25pt}{45.25pt}{ymax=10.9, ytick={0,2,...,10}}{K2s}{(166,10.4)[5] (166,9.3)[5] (165,7.9)[5] (112,9.9)[3] (124,9.8)[4] (138,8.7)[4] (128,7.8)[4] (98,8.2)[3] (24,8.7)[1] (34,8.3)[1] (5,7.8)[1] (68,7.9)[2] (64,7.0)[2] (198,8.7)[6] (198,7.6)[6] (214,7.0)[6] (247,8.7)[7] (250,8.6)[7] (302,8.7)[9] (306,7.7)[9] (320,7.4)[10] (384,8.2)[12] (353,7.0)[11] (12,6.5)[1] (18,6.0)[1] (28,6.2)[1] (38,6.6)[1] (52,5.8)[2] (60,5.5)[2] (72,5.8)[2] (88,6.2)[3] (94,7.0)[3] (102,7.2)[3] (108,6.8)[3] (114,6.0)[3] (126,6.5)[4] (132,6.8)[4] (140,6.0)[4] (150,5.0)[4] (162,6.2)[5] (170,6.5)[5] (176,5.5)[5] (196,5.8)[6] (206,6.5)[6] (212,5.2)[6] (228,6.0)[7] (234,6.2)[7] (240,6.5)[7] (246,5.5)[7] (260,6.2)[8] (266,6.8)[8] (272,6.5)[8] (278,5.8)[8] (288,6.5)[9] (294,6.2)[9] (300,6.0)[9] (314,6.5)[10] (320,6.8)[10] (326,6.3)[10] (340,6.8)[11] (346,7.0)[11] (352,6.5)[11] (360,6.0)[11] (370,6.0)[12] (376,5.5)[12] (382,6.5)[12] (388,5.8)[12]}{\cloud{K2c}}
\manh{1773.1}{1355}{108.25pt}{45.5pt}{ymax=12.9, ytick={0,2,...,12}}{K3}{(112,12.3)[3] (104,8.8)[3] (109,9.0)[3] (133,7.0)[4] (133,6.3)[4] (166,10.3)[5] (262,9.7)[8] (25,5.8)[1] (162,4.6)[5] (215,4.2)[6] (245,4.1)[7] (264,4.6)[8] (306,4.3)[9] (318,4.4)[10] (60,4.4)[2] (70,4.4)[2] (88,4.5)[3] (382,4.9)[12] (10,4.3)[1] (132,4.6)[4] (140,4.0)[4] (350,4.0)[11] (220,3.8)[6] (120,4.7)[4]}{}
\chraxis{1773.1}{1368}{108.25pt}

% ===================== QQ B =====================
\qq{636.3}{225.5}{36.43pt}{34.13pt}{ymin=-0.35, ymax=7, ytick={0,...,7}}{\band{glmb}{(3.5,3.75)(4,4.35)(4.5,5.0)(5,5.8)(5.6,6.8)(5.6,4.9)(5,4.55)(4.5,4.15)(4,3.75)(3.5,3.35)}\diag{6.15}\obs{glm}{(0,0)(1,0.95)(2,1.9)(3,2.9)(4,3.9)(4.5,4.4)(4.8,4.7)}{(4.95,4.85)(5.1,5.0)(5.3,5.4)(5.55,5.85)}}
\qq{636.3}{423.25}{36.43pt}{32.81pt}{ymin=-0.35, ymax=7, ytick={0,...,7}}{\band{mlmb}{(3.5,3.75)(4,4.35)(4.5,5.0)(5,5.8)(5.6,6.9)(5.6,4.8)(5,4.5)(4.5,4.15)(4,3.75)(3.5,3.35)}\diag{6.15}\obs{mlm}{(0,0)(1,0.88)(2,1.75)(3,2.65)(4,3.55)(4.35,3.9)(4.8,4.3)(5.2,4.6)}{(5.3,4.75)(5.45,4.9)(5.6,5.15)}}
\qq{636.3}{629.35}{36.43pt}{33.34pt}{ymin=-0.35, ymax=7, ytick={0,...,7}}{\band{fcpub}{(3.5,3.75)(4,4.35)(4.5,5.0)(5,5.8)(5.6,6.8)(5.6,4.9)(5,4.55)(4.5,4.15)(4,3.75)(3.5,3.35)}\diag{6.15}\obs{fcpu}{(0,0)(1,0.95)(2,1.9)(3,2.85)(4,3.9)(4.5,4.5)(4.8,4.8)}{(5.0,5.0)(5.2,5.1)(5.4,5.6)(5.6,5.8)}}

% ===================== QQ D =====================
\qq{1473.1}{222.35}{37.73pt}{33.34pt}{ymin=-0.5, ymax=10, ytick={0,2,...,10}}{\band{glmb}{(3.4,3.5)(4,4.2)(4.5,5.0)(5,5.8)(5.35,6.7)(5.35,5.0)(5,4.6)(4.5,4.2)(4,3.8)(3.4,3.3)}\diag{6.3}\obs{glm}{(0,0)(0.5,0.2)(1,0.55)(1.5,1.1)(2,1.85)(2.3,2.4)(2.6,3.0)(3,4.0)(3.5,5.1)(4,6.0)(4.4,6.6)(4.7,6.95)}{(4.9,7.2)(5.1,7.4)(5.4,9.8)}}
\qq{1473.1}{421.35}{37.73pt}{33.34pt}{ymin=-0.4, ymax=8, ytick={0,2,...,8}}{\band{mlmb}{(3.4,3.4)(4,4.1)(4.5,4.8)(5,5.6)(5.3,6.8)(5.3,4.8)(5,4.6)(4.5,4.2)(4,3.8)(3.4,3.3)}\diag{6.2}\obs{mlm}{(0,0)(0.5,0.1)(1,0.4)(1.5,0.95)(2,1.7)(2.5,2.5)(3,3.3)(3.5,4.1)(4,4.8)(4.5,5.3)(4.8,5.6)(5.0,5.6)}{(5.15,5.9)(5.25,7.0)}}
\qq{1473.1}{624.25}{37.73pt}{32.81pt}{ymin=-0.75, ymax=15, ytick={0,5,10,15}}{\band{fcpub}{(3.4,3.4)(4,4.2)(4.5,5.0)(5,5.8)(5.35,6.4)(5.35,4.9)(5,4.6)(4.5,4.2)(4,3.8)(3.4,3.3)}\diag{6.2}\obs{fcpu}{(0,0)(1,1)(2,2)(3,3)(4,4.1)(4.2,4.5)(4.3,5.0)}{(4.35,7.06)(4.5,8.0)(4.66,9.6)(4.8,11.1)(4.9,12.6)(5.2,14.4)}}

% ===================== QQ F =====================
\qq{2310}{223.4}{38.75pt}{33.6pt}{ymin=-0.35, ymax=7, ytick={0,...,7}}{\band{glmb}{(3.5,3.75)(4,4.35)(4.5,5.0)(5,5.8)(5.6,6.8)(5.6,4.9)(5,4.55)(4.5,4.15)(4,3.75)(3.5,3.35)}\diag{6.2}\obs{glm}{(0,0)(1,0.97)(2,1.95)(3,2.9)(4,3.85)(4.5,4.3)(4.9,4.6)}{(5.1,4.9)(5.25,5.3)(5.4,5.5)}}
\qq{2310}{429.3}{38.75pt}{33.08pt}{ymin=-0.35, ymax=7, ytick={0,...,7}}{\band{mlmb}{(3.5,3.75)(4,4.35)(4.5,5.0)(5,5.8)(5.6,6.9)(5.6,4.8)(5,4.5)(4.5,4.15)(4,3.75)(3.5,3.35)}\diag{6.2}\obs{mlm}{(0,0)(1,0.9)(2,1.7)(3,2.6)(4,3.6)(4.5,4.0)(4.8,4.3)}{(5.0,4.7)(5.2,5.0)(5.35,5.1)}}
\qq{2310}{633.35}{38.75pt}{33.34pt}{ymin=-0.35, ymax=7, ytick={0,...,7}}{\band{fcpub}{(3.5,3.75)(4,4.35)(4.5,5.0)(5,5.8)(5.6,6.8)(5.6,4.9)(5,4.55)(4.5,4.15)(4,3.75)(3.5,3.35)}\diag{6.2}\obs{fcpu}{(0,0)(1,0.95)(2,1.9)(3,2.85)(4,3.8)(4.5,4.3)(4.8,4.55)}{(5.0,4.7)(5.2,5.3)(5.4,5.6)}}

% ===================== QQ H =====================
\qq{639.2}{946.25}{36.95pt}{32.81pt}{ymin=-0.35, ymax=7, ytick={0,...,7}}{\band{glmb}{(3.5,3.75)(4,4.35)(4.5,5.0)(5,5.8)(5.6,6.8)(5.6,4.9)(5,4.55)(4.5,4.15)(4,3.75)(3.5,3.35)}\diag{6.2}\obs{glm}{(0,0)(1,0.95)(2,1.85)(3,2.75)(4,3.65)(4.5,4.1)(4.8,4.4)}{(5.0,4.95)(5.3,5.05)(5.55,5.75)}}
\qq{639.2}{1149.25}{36.95pt}{32.81pt}{ymin=-0.35, ymax=7, ytick={0,...,7}}{\band{mlmb}{(3.5,3.75)(4,4.35)(4.5,5.0)(5,5.8)(5.6,6.9)(5.6,4.8)(5,4.5)(4.5,4.15)(4,3.75)(3.5,3.35)}\diag{6.2}\obs{mlm}{(0,0)(1,0.88)(2,1.7)(3,2.45)(4,3.3)(4.5,3.75)(5.0,4.2)}{(5.3,4.9)(5.5,5.05)}}
\qq{639.2}{1349.25}{36.95pt}{32.81pt}{ymin=-0.35, ymax=7, ytick={0,...,7}}{\band{fcpub}{(3.5,3.75)(4,4.35)(4.5,5.0)(5,5.8)(5.6,6.8)(5.6,4.9)(5,4.55)(4.5,4.15)(4,3.75)(3.5,3.35)}\diag{6.2}\obs{fcpu}{(0,0)(1,0.95)(2,1.88)(3,2.8)(4,3.75)(4.5,4.3)(4.9,4.75)}{(5.1,5.3)(5.3,5.3)}}

% ===================== QQ J =====================
\qq{1439}{937.8}{38.5pt}{35.7pt}{ymin=-0.4, ymax=8, ytick={0,2,...,8}}{\band{glmb}{(3.4,3.4)(4,4.1)(4.5,4.8)(5,5.6)(5.6,6.7)(5.6,4.9)(5,4.6)(4.5,4.2)(4,3.8)(3.4,3.3)}\diag{6.2}\obs{glm}{(0,0)(1,1.0)(2,2.2)(3,3.4)(3.3,3.7)(3.6,3.9)(4.0,4.8)(4.3,5.4)(4.9,5.4)}{(5.1,5.7)(5.3,7.2)(5.6,7.3)}}
\qq{1439}{1142.7}{38.5pt}{35.18pt}{ymin=-0.35, ymax=7, ytick={0,...,7}}{\band{mlmb}{(3.5,3.75)(4,4.35)(4.5,5.0)(5,5.8)(5.6,6.8)(5.6,4.8)(5,4.5)(4.5,4.15)(4,3.75)(3.5,3.35)}\diag{6.2}\obs{mlm}{(0,0)(1,1)(2,2)(3,3)(3.5,3.45)(4,4.05)(4.3,4.3)(4.8,4.4)}{(5.0,4.7)(5.3,5.2)(5.5,5.3)}}
\qq{1439}{1349.85}{38.5pt}{35.96pt}{ymin=-0.7, ymax=14, ytick={0,2,...,14}}{\band{fcpub}{(3.5,3.75)(4,4.35)(4.5,5.0)(5,5.8)(5.6,6.8)(5.6,4.9)(5,4.55)(4.5,4.15)(4,3.75)(3.5,3.35)}\diag{6.2}\obs{fcpu}{(0,0)(1,0.85)(2,1.7)(3,2.4)(4,3.5)(4.5,4.1)}{(4.7,5.8)(4.8,6.3)(4.95,7.3)(5.4,13.8)(5.6,13.8)}}

% ===================== QQ L =====================
\qq{2293.7}{940.85}{40.83pt}{35.96pt}{ymin=-0.75, ymax=15, ytick={0,5,10,15}}{\band{glmb}{(3.4,3.4)(4,4.2)(4.5,5.0)(5,5.8)(5.3,6.5)(5.3,4.9)(5,4.6)(4.5,4.2)(4,3.8)(3.4,3.3)}\diag{6.2}\obs{glm}{(0,0)(0.5,0.1)(1,0.4)(1.5,0.8)(1.8,1.2)(2.0,2.4)(2.2,3.75)(2.6,5.2)(3.0,6.4)(3.5,8.0)(3.9,10.0)(4.3,11.5)(4.5,12.2)(4.7,12.2)}{(4.9,13.0)(5.1,14.0)(5.2,14.2)(5.35,15.4)}}
\qq{2293.7}{1144.6}{40.83pt}{34.65pt}{ymin=-0.5, ymax=10, ytick={0,2,...,10}}{\band{mlmb}{(3.4,3.4)(4,4.2)(4.5,5.0)(5,5.8)(5.3,6.5)(5.3,4.9)(5,4.6)(4.5,4.2)(4,3.8)(3.4,3.3)}\diag{6.2}\obs{mlm}{(0,0)(0.5,0.1)(1,0.3)(1.5,0.6)(1.8,1.0)(2.0,2.2)(2.3,3.4)(2.6,4.4)(3,5.4)(3.5,6.3)(4.0,7.3)(4.3,8.0)(4.4,8.7)(4.8,8.7)}{(5.0,9.6)(5.15,9.8)(5.4,10.3)}}
\qq{2293.7}{1353.9}{40.83pt}{36.23pt}{ymin=-0.6, ymax=12, ytick={0,2,...,12}}{\band{fcpub}{(3.4,3.4)(4,4.2)(4.5,5.0)(5,5.8)(5.5,6.6)(5.5,4.9)(5,4.6)(4.5,4.2)(4,3.8)(3.4,3.3)}\diag{6.2}\obs{fcpu}{(0,0)(1,0.95)(2,1.9)(3,2.85)(4,3.85)(4.45,4.9)}{(4.55,5.4)(4.6,6.1)(4.7,7.1)(4.8,8.9)(4.95,10.0)(5.15,10.6)(5.45,12.4)}}

% ===================== labels =====================
\lab[font=\cond\fs{9.5}]{40}{46}{A}
\lab[font=\cond\fs{9.5}]{602}{60}{B}
\lab[font=\cond\fs{9.5}]{886}{42}{C}
\lab[font=\cond\fs{9.5}]{1447}{45}{D}
\lab[font=\cond\fs{9.5}]{1721}{42}{E}
\lab[font=\cond\fs{9.5}]{2283}{45}{F}
\lab[font=\cond\fs{9.5}]{42}{756}{G}
\lab[font=\cond\fs{9.5}]{621.5}{761}{H}
\lab[font=\cond\fs{9.5}]{889}{756}{I}
\lab[font=\cond\fs{9.5}]{1412}{761}{J}
\lab[font=\cond\fs{9.5}]{1713}{760}{K}
\lab[font=\cond\fs{9.5}]{2248}{763}{L}

\lab[font=\xcond\bfseries\fs{7.5}, rotate=-90]{802}{158}{RGP. GLM}
\lab[font=\xcond\bfseries\fs{7.5}, rotate=-90]{802}{357}{RGP. MLM}
\lab[font=\xcond\bfseries\fs{7.5}, rotate=-90]{802}{553}{RGP. FarmCPU}
\lab[font=\xcond\bfseries\fs{7.5}, rotate=-90]{1642}{143}{RGR. GLM}
\lab[font=\xcond\bfseries\fs{7.5}, rotate=-90]{1639}{346}{RGR. MLM}
\lab[font=\xcond\bfseries\fs{7.5}, rotate=-90]{1645}{545}{RGR. FarmCPU}
\lab[font=\xcond\bfseries\fs{7.5}, rotate=-90]{2483}{150}{RRL. GLM}
\lab[font=\xcond\bfseries\fs{7.5}, rotate=-90]{2483}{355}{RRL. MLM}
\lab[font=\xcond\bfseries\fs{7.5}, rotate=-90]{2486}{560}{RRL. FarmCPU}
\lab[font=\xcond\bfseries\fs{7.5}, rotate=-90]{813}{852}{RSL. GLM}
\lab[font=\xcond\bfseries\fs{7.5}, rotate=-90]{810}{1068}{RSL. MLM}
\lab[font=\xcond\bfseries\fs{7.5}, rotate=-90]{811}{1279}{RSL. FarmCPU}
\lab[font=\xcond\bfseries\fs{7.5}, rotate=-90]{1629}{870}{RRSFW. GLM}
\lab[font=\xcond\bfseries\fs{7.5}, rotate=-90]{1634}{1081}{RRSFW. MLM}
\lab[font=\xcond\bfseries\fs{7.5}, rotate=-90]{1641}{1290}{RRSFW. FarmCPU}
\lab[font=\xcond\bfseries\fs{7.5}, rotate=-90]{2483}{874}{RRSDW. GLM}
\lab[font=\xcond\bfseries\fs{7.5}, rotate=-90]{2481}{1074}{RRSDW. MLM}
\lab[font=\xcond\bfseries\fs{7.5}, rotate=-90]{2481}{1272}{RRSDW. FarmCPU}

\lab[font=\bfseries\fs{7.5}]{721}{680}{Expected-log\textsubscript{10}(\textit{P})}
\lab[font=\bfseries\fs{7.5}]{1564}{675}{Expected-log\textsubscript{10}(\textit{P})}
\lab[font=\bfseries\fs{7.5}]{2398}{680}{Expected-log\textsubscript{10}(\textit{P})}
\lab[font=\bfseries\fs{7.5}]{721}{1403}{Expected-log\textsubscript{10}(\textit{P})}
\lab[font=\bfseries\fs{7.5}]{1534}{1403}{Expected-log\textsubscript{10}(\textit{P})}
\lab[font=\bfseries\fs{7.5}]{2376}{1403}{Expected-log\textsubscript{10}(\textit{P})}
\end{tikzpicture}
\end{document}
